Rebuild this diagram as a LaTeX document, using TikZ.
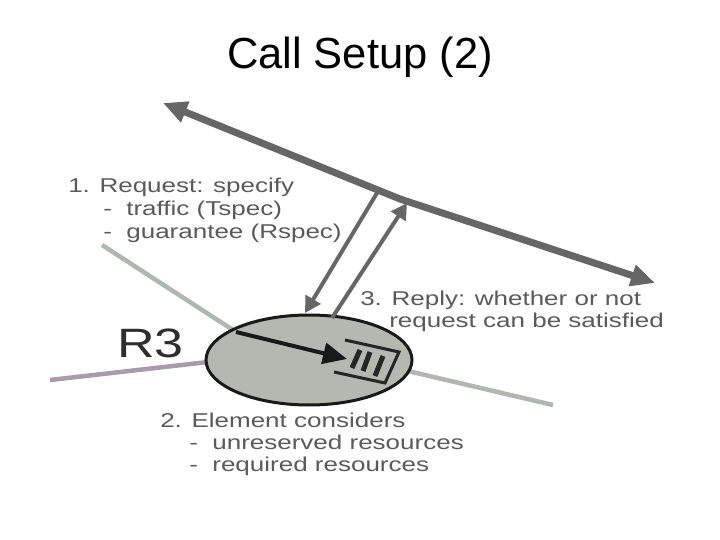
\documentclass[tikz,border=0pt]{standalone}
\usepackage{fontspec}
\setmainfont{Liberation Sans}
\usetikzlibrary{arrows.meta,shapes.geometric}
\definecolor{lbl}{HTML}{5A5A5A}
\definecolor{wire}{HTML}{666666}
\definecolor{fillg}{HTML}{B4B8B0}
\definecolor{linkg}{HTML}{B0B6B0}
\definecolor{linkp}{HTML}{A89CA8}
\tikzset{
 lab/.style={anchor=base west,inner sep=0pt,text=lbl,font=\fontsize{20}{20}\selectfont,xscale=1.3,transform shape},
 thin arrow/.style={draw=wire,line width=4pt},
 linkline/.style={draw=linkg,line width=4.5pt},
 queue/.style={draw=black!85,line width=3pt}
}
\begin{document}
\begin{tikzpicture}[x=1pt,y=-1pt]
\useasboundingbox (0,0) rectangle (720,540);
\fill[white] (0,0) rectangle (720,540);
\node[anchor=base,inner sep=0pt,font=\fontsize{43.5}{44}\selectfont,text=black] (title) at (360,69) {Call Setup (2)};
% links
\coordinate (l1) at (102,245);
\coordinate (l2) at (50,380);
\coordinate (l3) at (553,405);
\coordinate (c1) at (233,330);
\coordinate (c2) at (208,362);
\coordinate (c3) at (408,371);
\draw[linkline] (l1) -- (c1);
\draw[linkline,draw=linkp] (l2) -- (c2);
\draw[linkline] (l3) -- (c3);
% main path
\coordinate (m1) at (163,103);
\coordinate (mk) at (400,199);
\coordinate (m2) at (655,283);
\draw[draw=wire,line width=7pt,line join=round,{Triangle[length=24pt,width=21pt]}-{Triangle[length=24pt,width=21pt]}] (m1) -- (mk) -- (m2);
% router
\node[draw=black!90,fill=fillg,line width=3pt,ellipse,minimum width=206pt,minimum height=90pt,inner sep=0pt] (r3) at (309,360) {};
% request and reply arrows
\coordinate (p1) at (377,193);
\coordinate (p2) at (305,313);
\coordinate (p3) at (332,318);
\coordinate (p4) at (407,203);
\draw[thin arrow,-{Triangle[length=16pt,width=17pt]}] (p1) -- (p2);
\draw[thin arrow,-{Triangle[length=16pt,width=17pt]}] (p3) -- (p4);
% inner arrow
\coordinate (a1) at (236,332);
\coordinate (a2) at (347,359);
\draw[draw=black!90,line width=4pt,-{Triangle[length=24pt,width=21pt]}] (a1) -- (a2);
% queue
\coordinate (q1) at (345,340);
\coordinate (q2) at (399,352);
\coordinate (q3) at (385,383);
\coordinate (q4) at (334,372);
\draw[queue] (q1) -- (q2) -- (q3) -- (q4);
\draw[queue,line width=5pt] (360,350) -- (352,368);
\draw[queue,line width=5pt] (370,352) -- (363,371);
\draw[queue,line width=5pt] (383,356) -- (375,376);
% text
\node[lab] (t1) at (68,193) {1. Request: specify};
\node[lab] (t2) at (103,215) {- \ traffic (Tspec)};
\node[lab] (t3) at (103,238) {- \ guarantee (Rspec)};
\node[lab] (t4) at (360,305) {3. Reply: whether or not};
\node[lab] (t5) at (389,327) {request can be satisfied};
\node[lab] (t6) at (160,427) {2. Element considers};
\node[lab] (t7) at (189,449) {- \ unreserved resources};
\node[lab] (t8) at (189,471) {- \ required resources};
\node[anchor=base west,inner sep=0pt,text=black!82,font=\fontsize{41}{41}\selectfont,xscale=1.27,transform shape] (r3l) at (117,357) {R3};
\end{tikzpicture}
\end{document}
